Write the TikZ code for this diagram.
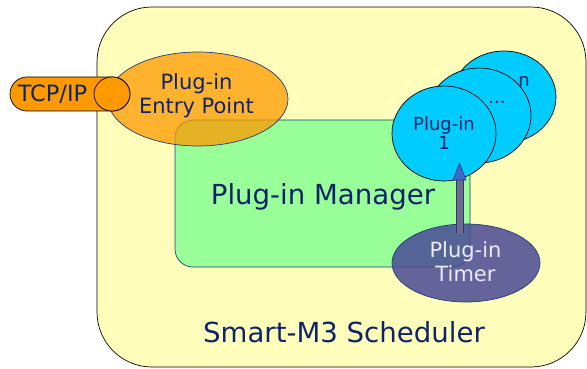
\documentclass[tikz,border=0pt]{standalone}
\usepackage{fontspec}
\setmainfont{DejaVu Sans}
\usetikzlibrary{shapes.geometric}
\definecolor{navy}{HTML}{0F2466}
\definecolor{schedyellow}{HTML}{FFFFBB}
\definecolor{mgrgreen}{HTML}{99FF99}
\definecolor{orng}{HTML}{FF9900}
\definecolor{cyanp}{HTML}{00CCFF}
\definecolor{timerblue}{HTML}{4A4A96}
\definecolor{edgeblue}{HTML}{1F3D7A}
\definecolor{shaftcol}{HTML}{6B6B8F}
\definecolor{shaftedge}{HTML}{333366}
\definecolor{headcol}{HTML}{3A6BC8}
\begin{document}
\begin{tikzpicture}[x=1pt,y=-1pt,
  shp/.style={inner sep=0pt, outer sep=0pt, line width=0.7pt},
  schedbox/.style={shp, rectangle, rounded corners=55pt, draw=black, fill=schedyellow},
  mgrbox/.style={shp, rectangle, rounded corners=18pt, draw=edgeblue, fill=mgrgreen},
  entryshape/.style={shp, ellipse, draw=edgeblue, fill=orng, fill opacity=0.75},
  pill/.style={shp, rectangle, rounded corners=17pt, draw=black, fill=orng},
  pillend/.style={shp, ellipse, draw=black, fill=orng},
  plugcircle/.style={shp, ellipse, draw=black, fill=cyanp, minimum width=104pt},
  timershape/.style={shp, ellipse, draw=edgeblue, fill=timerblue, fill opacity=0.85},
  txt/.style={inner sep=0pt, outer sep=0pt, text=navy, align=center}
]
\useasboundingbox (0,0) rectangle (587,369);

% scheduler
\node[schedbox, minimum width=489pt, minimum height=360pt] (sched) at (341.5,187) {};
% manager
\node[mgrbox, minimum width=295pt, minimum height=147pt] (mgr) at (322.5,193.5) {};
% entry point
\node[entryshape, minimum width=180pt, minimum height=94pt] (entry) at (198,99) {};
% TCP/IP pill
\node[pill, minimum width=120pt, minimum height=34pt] (tcp) at (70,94) {};
\node[pillend, minimum width=36pt, minimum height=34pt] (tcpend) at (112,94) {};
% plug-in circles
\node[plugcircle, minimum height=92pt] (pn) at (504,97) {};
\node[plugcircle, minimum height=95pt] (pdots) at (479,115.5) {};
\node[plugcircle, minimum height=95pt] (p1) at (444,133.5) {};
% timer
\node[timershape, minimum width=148pt, minimum height=78pt] (timer) at (466,263) {};

% arrow from timer to plug-in 1
\coordinate (abot) at (459.5,233);
\coordinate (atop) at (459.5,163);
\coordinate (ahead) at (459.5,180);
\draw[line width=8pt, shaftedge] (abot) -- (ahead);
\draw[line width=6pt, shaftcol] ([yshift=-1pt]abot) -- (ahead);
\draw[fill=headcol, draw=edgeblue, line width=0.6pt, line join=round]
  ([xshift=-6.5pt]ahead) -- (atop) -- ([xshift=6.5pt]ahead) -- cycle;

% texts
\node[txt, font=\fontsize{22.5}{26}\selectfont, anchor=base] (tcplabel) at (52.5,102) {TCP/IP};
\node[txt, font=\fontsize{21}{24}\selectfont] (entrylabel) at (196.5,95.5) {Plug-in\\Entry Point};
\node[txt, font=\fontsize{27.6}{33}\selectfont, anchor=base] (mgrlabel) at (323,204) {Plug-in Manager};
\node[txt, font=\fontsize{18}{19}\selectfont] (p1label) at (444,132.7) {Plug-in\\1};
\node[txt, font=\fontsize{18}{19}\selectfont, anchor=base] (dotslabel) at (497,103) {...};
\node[txt, font=\fontsize{18}{19}\selectfont, anchor=base] (nlabel) at (524,87) {n};
\node[txt, text=white!92!blue, font=\fontsize{21}{24}\selectfont] (timerlabel) at (465.5,262) {Plug-in\\Timer};
\node[txt, font=\fontsize{27.6}{33}\selectfont, anchor=base] (schedlabel) at (344,342) {Smart-M3 Scheduler};
\end{tikzpicture}
\end{document}
